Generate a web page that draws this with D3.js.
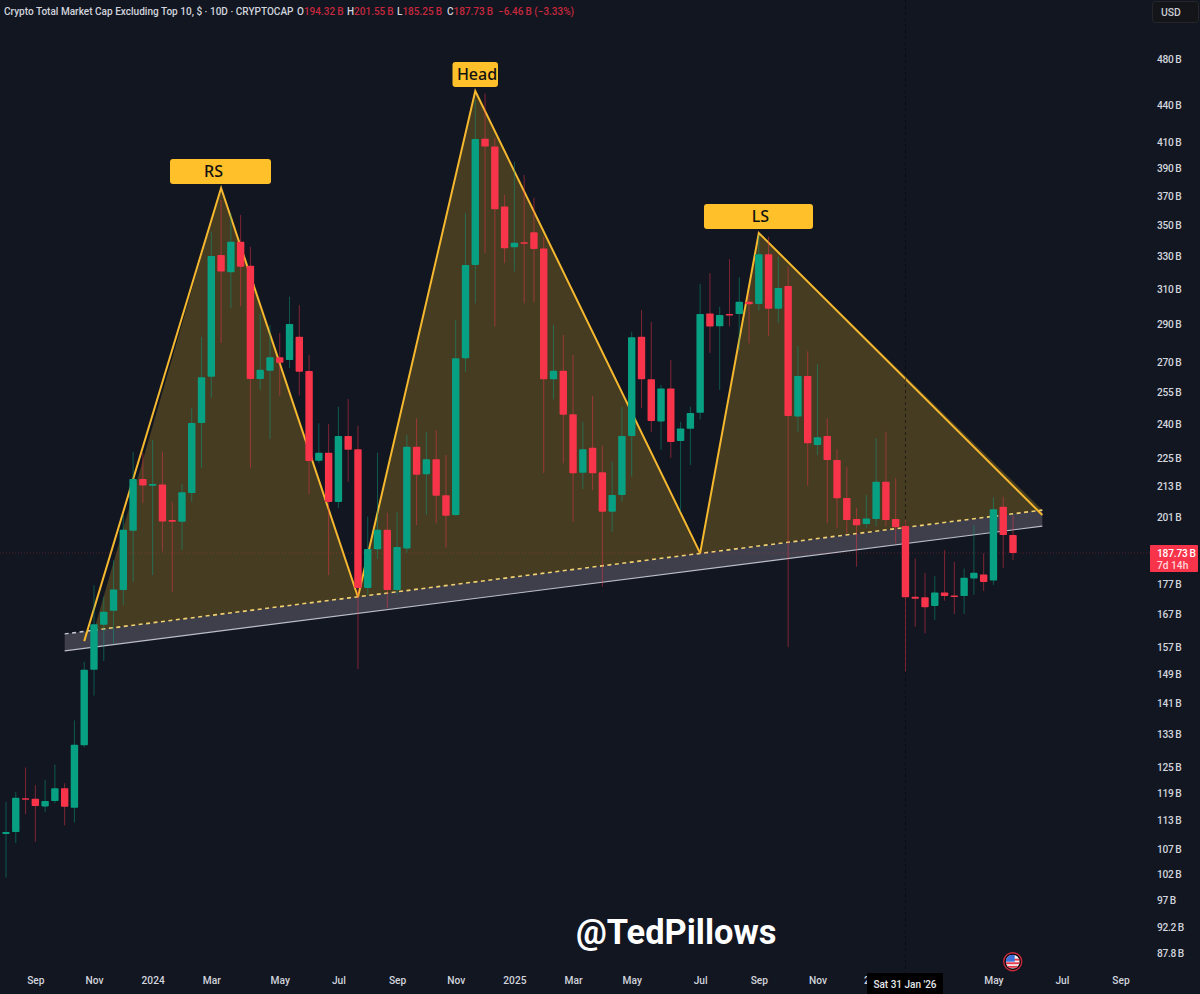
<!DOCTYPE html>
<html><head><meta charset="utf-8">
<script src="https://cdn.jsdelivr.net/npm/d3@7/dist/d3.min.js"></script>
<style>html,body{margin:0;padding:0;background:#121621;overflow:hidden}svg{display:block}text{font-family:Roboto,sans-serif}</style>
</head><body><svg id="c" width="1200" height="994"></svg>
<script>
const opens=[110.1,110.5,117.8,117.7,116.0,117.2,120.1,115.7,130.3,150.4,163.8,168.2,175.0,195.9,216.1,213.3,213.8,199.9,199.2,210.4,240.4,262.5,330.8,320.1,339.2,324.1,261.3,265.5,272.3,270.9,283.2,265.3,223.7,227.2,206.9,234.5,228.7,175.7,189.1,196.2,175.0,189.4,229.8,218.1,224.4,209.5,201.8,271.8,324.6,412.5,406.4,362.6,335.7,338.8,345.4,334.8,261.2,265.5,244.4,218.7,229.3,218.9,203.1,209.6,234.5,283.2,261.2,241.1,256.6,232.3,237.7,245.1,296.0,288.9,295.7,295.7,302.6,301.4,331.2,298.7,311.9,243.3,262.8,230.5,234.5,224.0,208.4,200.3,198.4,200.3,215.0,200.3,197.6,172.8,172.6,169.8,174.2,173.2,173.0,178.9,180.2,178.2,205.0,194.32];
const highs=[117.0,119.2,124.9,120.8,122.0,125.6,121.2,136.6,152.7,176.6,172.8,185.2,201.8,227.6,227.0,232.7,227.6,206.9,214.1,247.2,283.1,345.8,367.2,358.3,356.9,335.9,295.7,289.6,285.2,305.6,300.7,273.5,240.2,239.9,247.9,251.6,239.1,201.2,227.2,202.7,203.1,234.9,242.5,236.4,237.2,226.2,292.3,358.1,444.0,449.4,413.1,370.8,395.0,385.1,368.8,342.5,289.6,284.1,273.5,240.9,253.2,230.2,223.3,247.9,285.9,297.9,291.4,258.4,270.9,240.9,247.9,313.0,319.5,299.8,328.2,317.0,307.7,343.6,342.5,329.7,323.5,278.2,275.4,268.7,242.5,228.7,221.0,204.6,209.6,233.5,236.4,216.4,199.9,185.8,180.8,179.7,188.8,184.6,182.3,198.0,187.6,208.7,208.9,201.55];
const lows=[101.3,108.2,114.3,108.5,114.8,116.7,111.9,112.5,129.8,143.2,152.9,158.1,170.1,177.7,206.4,180.0,188.3,174.4,188.8,206.9,220.7,252.1,279.8,299.0,300.1,220.7,256.0,233.2,253.2,266.9,253.2,210.0,222.7,180.0,204.5,215.0,150.6,173.4,185.6,169.1,173.6,187.7,198.0,201.8,198.6,189.7,201.4,265.0,301.7,331.9,288.7,325.6,320.5,301.7,302.3,218.5,251.4,222.6,199.3,212.0,211.6,176.1,195.5,206.9,217.1,247.2,236.3,228.4,224.9,203.1,221.9,242.0,274.6,256.0,288.7,276.2,279.6,297.6,283.6,290.5,157.0,236.4,213.3,226.2,198.6,196.8,194.9,182.9,197.0,197.5,197.5,191.2,149.9,163.2,161.2,165.3,171.5,167.2,167.2,173.4,174.7,176.7,182.5,185.25];
const closes=[110.5,117.9,117.6,116.1,117.2,120.1,115.9,130.4,150.4,164.0,167.9,175.2,196.2,216.1,213.4,214.1,199.3,199.2,210.7,240.4,262.2,330.1,320.5,339.2,323.5,261.3,265.9,272.3,269.5,290.1,265.0,223.6,227.2,206.9,234.5,228.4,175.7,189.2,196.2,175.0,189.9,229.8,217.8,224.4,209.3,201.5,271.8,324.6,412.3,406.4,360.8,335.0,338.6,338.4,334.6,261.2,265.4,244.2,218.5,228.7,218.5,203.1,209.6,234.5,282.9,261.2,241.3,256.6,231.8,237.9,245.0,295.7,288.7,295.1,295.4,302.6,301.2,331.2,298.7,310.7,243.6,262.8,231.3,233.9,224.0,208.3,199.9,197.9,200.5,215.0,199.9,197.2,172.6,172.1,169.4,174.2,173.0,173.0,179.1,180.8,177.7,204.0,194.3,187.73];

const priceTicks=[480,440,410,390,370,350,330,310,290,270,255,240,225,213,201,177,167,157,149,141,133,125,119,113,107,102,97,92.2,87.8];
const timeTickLabels=["Sep","Nov","2024","Mar","May","Jul","Sep","Nov","2025","Mar","May","Jul","Sep","Nov","2","May","Jul","Sep"];
const timeTickBars=[3,9,15,21,28,34,40,46,52,58,64,71,77,83,88,101,108,114];

// pattern anchors, in bar index and price ($B)
const rsBars=[8,22,36], rsPrices=[158.8,375.7,172.7];
const headBars=[36,48,71], headPrices=[172.7,451.7,187.7];
const lsBars=[71,77,106], lsPrices=[187.7,344.9,201.8];
const channelBars=[6,106], channelTop=[161.0,203.7], channelBottom=[155.9,197.6];
const baseStartBar=9;
const labelNames=["RS","Head","LS"];

const titleText="Crypto Total Market Cap Excluding Top 10, $ · 10D · CRYPTOCAP";
const ohlcNames=["O","H","L","C"], ohlcValues=["194.32\u2009B","201.55\u2009B","185.25\u2009B","187.73\u2009B"];
const changeText="−6.46\u2009B (−3.33%)";
const lastPrice=187.73, crossBar=92;

const svg=d3.select("#c");
const W=1200,H=994,BG="#121621",UP="#08a082",DOWN="#f7344a",GOLD="#f5b82e",LBL="#ffc02a",AXIS="#d1d4dc";
svg.append("rect").attr("width",W).attr("height",H).attr("fill",BG);

const x=d3.scaleLinear().domain([0,103]).range([6,1013]);
const y=d3.scaleLog().domain([480,87.8]).range([59,953]);

// channel under neckline
const chanArea=d3.area().x((d,i)=>x(channelBars[i])).y0((d,i)=>y(channelBottom[i])).y1((d,i)=>y(channelTop[i]));
svg.append("path").attr("d",chanArea(channelBars)).attr("fill","#3e3f4b");
const lineXY=d3.line().x(d=>x(d[0])).y(d=>y(d[1]));
const zip=(a,b)=>a.map((v,i)=>[v,b[i]]);
svg.append("path").attr("d",lineXY(zip(channelBars,channelBottom))).attr("fill","none").attr("stroke","#bcbfca").attr("stroke-width",1.1);

// filled triangles
const fillTop=(bar)=>{const t=(bar-channelBars[0])/(channelBars[1]-channelBars[0]);return Math.exp(Math.log(channelTop[0])+t*(Math.log(channelTop[1])-Math.log(channelTop[0])));};
const fills=[[[baseStartBar,fillTop(baseStartBar)],[rsBars[1],rsPrices[1]],[rsBars[2],rsPrices[2]]],
             zip(headBars,headPrices),
             [[lsBars[0],lsPrices[0]],[lsBars[1],lsPrices[1]],[lsBars[2],fillTop(lsBars[2])]]];
svg.append("g").selectAll("path").data(fills).join("path")
  .attr("d",d=>lineXY(d)+"Z").attr("fill","#ffc02a").attr("fill-opacity",0.225);

// neckline: white stub, then pale gold dashes
svg.append("path").attr("d",lineXY([[channelBars[0],channelTop[0]],[baseStartBar,fillTop(baseStartBar)]])).attr("fill","none").attr("stroke","#c9ccd6").attr("stroke-width",1.4).attr("stroke-dasharray","4 3.5");
svg.append("path").attr("d",lineXY([[baseStartBar,fillTop(baseStartBar)],[channelBars[1],channelTop[1]]])).attr("fill","none").attr("stroke","#f0d070").attr("stroke-width",1.6).attr("stroke-dasharray","4 3.5");

// pattern legs
svg.append("g").selectAll("path").data([zip(rsBars,rsPrices),zip(headBars,headPrices),zip(lsBars,lsPrices)]).join("path")
  .attr("d",d=>lineXY(d)).attr("fill","none").attr("stroke",GOLD).attr("stroke-width",2).attr("stroke-linejoin","miter");

// last price line and crosshair
svg.append("line").attr("x1",0).attr("x2",1150).attr("y1",y(lastPrice)).attr("y2",y(lastPrice)).attr("stroke","#f7344a").attr("stroke-opacity",0.3).attr("stroke-dasharray","1 2");
svg.append("line").attr("x1",x(crossBar)).attr("x2",x(crossBar)).attr("y1",0).attr("y2",973).attr("stroke","#05070b").attr("stroke-opacity",0.55).attr("stroke-dasharray","3 3");

// candles
const bars=d3.range(opens.length);
const bw=7.4;
const g=svg.append("g");
g.selectAll("line.w").data(bars).join("line").attr("class","w")
  .attr("x1",i=>x(i)).attr("x2",i=>x(i)).attr("y1",i=>y(highs[i])).attr("y2",i=>y(lows[i]))
  .attr("stroke",i=>closes[i]>=opens[i]?UP:DOWN).attr("stroke-opacity",0.48).attr("stroke-width",1);
g.selectAll("rect.b").data(bars).join("rect").attr("class","b")
  .attr("x",i=>x(i)-bw/2).attr("width",bw)
  .attr("y",i=>Math.min(y(opens[i]),y(closes[i])))
  .attr("height",i=>Math.max(1.5,Math.abs(y(opens[i])-y(closes[i]))))
  .attr("rx",0.8).attr("fill",i=>closes[i]>=opens[i]?UP:DOWN);

// labels
const labelBoxes=[{x0:170,x1:271,p:rsPrices[1]},{x0:452.5,x1:498,p:headPrices[1]},{x0:704,x1:813,p:lsPrices[1]}];
const lab=svg.append("g").selectAll("g").data(labelNames).join("g");
lab.append("rect").attr("x",(d,i)=>labelBoxes[i].x0).attr("width",(d,i)=>labelBoxes[i].x1-labelBoxes[i].x0)
  .attr("y",(d,i)=>y(labelBoxes[i].p)-29).attr("height",25).attr("rx",3).attr("fill",LBL);
lab.append("text").attr("x",(d,i)=>d==="RS"?213.5:d==="LS"?760.5:477).attr("y",(d,i)=>y(labelBoxes[i].p)-11).attr("text-anchor","middle")
  .attr("font-size",16).attr("font-weight",500).attr("fill","#111").style("font-family",'"Noto Sans",sans-serif').text(d=>d);

// axes
const yAxis=d3.axisRight(y).tickValues(priceTicks).tickSize(0).tickPadding(0).tickFormat(d=>d+"\u2009B");
const ya=svg.append("g").attr("transform","translate(1157,0)").call(yAxis);
ya.select(".domain").remove();
ya.selectAll("text").attr("fill",AXIS).attr("font-size",10.2).attr("letter-spacing","-0.3px").attr("font-weight",500).style("font-family","Roboto,sans-serif");
const xAxis=d3.axisBottom(x).tickValues(timeTickBars).tickSize(0).tickPadding(0).tickFormat((d,i)=>timeTickLabels[i]);
const xa=svg.append("g").attr("transform","translate(0,977)").call(xAxis);
xa.select(".domain").remove();
xa.selectAll("text").attr("fill",AXIS).attr("font-size",10.2).attr("font-weight",500).style("font-family","Roboto,sans-serif");

// crosshair date label
svg.append("rect").attr("x",867).attr("y",973).attr("width",76).attr("height",21).attr("fill","#000");
svg.append("text").attr("x",x(crossBar)-.5).attr("y",988).attr("text-anchor","middle").attr("fill","#e6e8ee").attr("font-size",10).attr("font-weight",500).text("Sat 31 Jan '26");

// price badge
svg.append("rect").attr("x",1150).attr("y",y(lastPrice)-8).attr("width",48).attr("height",27).attr("rx",1).attr("fill",DOWN);
svg.append("text").attr("x",1157).attr("y",y(lastPrice)+3.5).attr("fill","#fff").attr("font-size",10.2).attr("letter-spacing","-0.2px").attr("font-weight",500).text("187.73\u2009B");
svg.append("text").attr("x",1157).attr("y",y(lastPrice)+15.5).attr("fill","#ffd6db").attr("font-size",10.2).attr("font-weight",500).text("7d 14h");

// USD box
svg.append("rect").attr("x",1152.5).attr("y",1.5).attr("width",46).attr("height",21).attr("rx",3).attr("fill","#141518").attr("stroke","#24262c");
svg.append("text").attr("x",1161).attr("y",16).attr("fill","#c9ccd4").attr("font-size",10.4).attr("font-weight",500).text("USD");

// header
svg.append("text").attr("x",4).attr("y",15).attr("fill","#d1d4dc").attr("font-size",10.05).attr("font-weight",500).text(titleText);
const ohlcX=[297,347,397,447];
ohlcNames.forEach((n,i)=>{
  const t=svg.append("text").attr("x",ohlcX[i]).attr("y",15).attr("font-size",10).attr("font-weight",500);
  t.append("tspan").attr("fill","#d1d4dc").text(n);
  t.append("tspan").attr("fill","#c5283c").text(ohlcValues[i]);
});
svg.append("text").attr("x",498).attr("y",15).attr("fill","#c5283c").attr("font-size",10).attr("font-weight",500).text(changeText);

// watermark
svg.append("text").attr("x",576).attr("y",944).attr("fill","#fff").attr("font-size",34.4).attr("font-weight",700).style("font-family","Roboto,sans-serif").text("@TedPillows");

// earnings flag
const flag=svg.append("g").attr("transform","translate(1012.7,961.7)");
flag.append("circle").attr("r",9).attr("fill","#0a0a0e").attr("stroke","#c62a3c").attr("stroke-width",1.4);
svg.append("clipPath").attr("id","fc").append("circle").attr("r",7).attr("cx",0).attr("cy",0);
const fl=flag.append("g").attr("clip-path","url(#fc)");
fl.append("rect").attr("x",-7).attr("y",-7).attr("width",14).attr("height",14).attr("fill","#f4f4f6");
["#e23a4a","#e23a4a","#e23a4a"].forEach((c,i)=>fl.append("rect").attr("x",-7).attr("y",-3+i*3.6).attr("width",14).attr("height",1.9).attr("fill",c));
fl.append("rect").attr("x",-7).attr("y",-7).attr("width",9).attr("height",7).attr("fill","#3f6fd8");
</script></body></html>
